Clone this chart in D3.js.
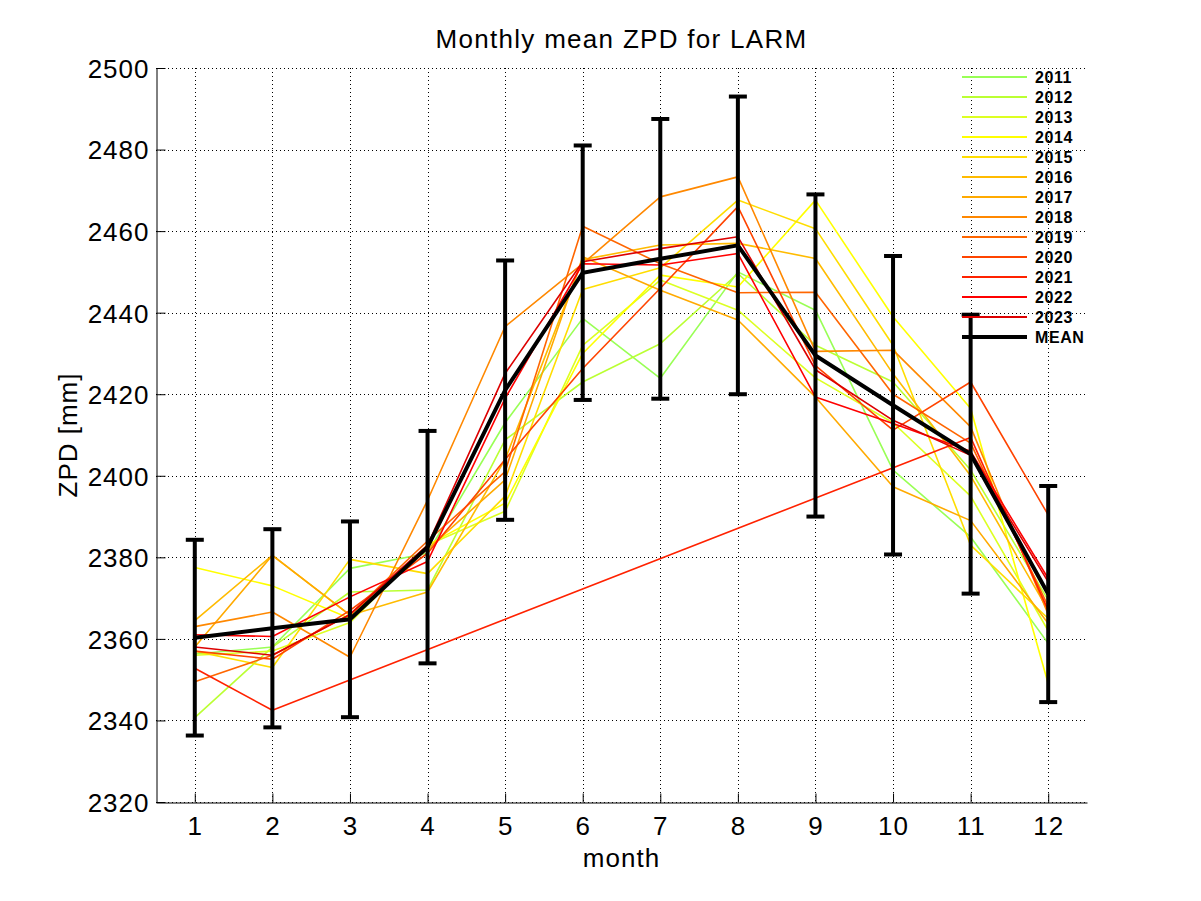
<!DOCTYPE html>
<html>
<head>
<meta charset="utf-8">
<script src="https://cdn.jsdelivr.net/npm/d3@7/dist/d3.min.js"></script>
<style>
  html, body { margin: 0; padding: 0; background: #fff; }
  svg { display: block; }
  text { font-family: "Liberation Sans", Arial, Helvetica, sans-serif; fill: #000; }
</style>
</head>
<body>
<svg id="chart" width="1201" height="901"></svg>
<script>
// ---------------- DATA ----------------
const months = [1, 2, 3, 4, 5, 6, 7, 8, 9, 10, 11, 12];
const yTicks = [2320, 2340, 2360, 2380, 2400, 2420, 2440, 2460, 2480, 2500];
const years = ["2011", "2012", "2013", "2014", "2015", "2016", "2017", "2018", "2019", "2020", "2021", "2022", "2023"];
const yearColors = ["#99ff55", "#bbff33", "#ddff22", "#ffff00", "#ffdd00", "#ffbb00", "#ffaa00",
                    "#ff8800", "#ff6600", "#ff4400", "#ff2200", "#ff0000", "#dd0000"];

const zpd2011 = [2356.3, 2358.0, 2377.3, 2381.0, 2413.0, 2438.6, 2423.9, 2450.0, 2440.6, 2401.4, 2385.0, 2358.9];
const zpd2012 = [2340.7, 2358.0, 2371.5, 2372.0, 2408.8, 2423.0, 2432.4, 2449.6, 2432.0, 2423.0, 2401.4, 2369.5];
const zpd2013 = [2356.0, 2357.0, 2364.0, 2383.0, 2391.3, 2432.0, 2448.0, 2440.6, 2424.0, 2413.0, 2395.0, 2362.0];
const zpd2014 = [2377.5, 2373.0, 2365.0, 2383.0, 2393.3, 2430.0, 2449.2, 2446.3, 2467.6, 2439.0, 2416.5, 2349.0];
const zpd2015 = [2357.0, 2353.0, 2379.5, 2376.0, 2395.0, 2445.7, 2451.0, 2467.6, 2460.6, 2432.0, 2383.0, 2365.0];
const zpd2016 = [2364.5, 2380.5, 2365.8, 2371.5, 2404.0, 2453.0, 2456.6, 2457.0, 2453.3, 2425.0, 2400.0, 2367.0];
const zpd2017 = [2358.0, 2380.5, 2365.8, 2382.0, 2399.0, 2453.7, 2445.5, 2438.2, 2419.3, 2397.3, 2389.0, 2363.8];
const zpd2018 = [2363.0, 2366.6, 2355.5, 2394.0, 2436.6, 2452.0, 2468.4, 2473.3, 2430.5, 2430.8, 2412.0, 2366.0];
const zpd2019 = [2349.5, 2356.0, 2366.0, 2384.0, 2401.0, 2461.2, 2452.0, 2444.9, 2445.0, 2420.0, 2408.0, 2368.0];
const zpd2020 = [2357.0, 2355.0, 2367.0, 2381.0, 2404.0, 2426.3, 2446.0, 2466.0, 2427.0, 2411.2, 2423.0, 2390.4];
const zpd2021 = [2352.8, 2342.5, null, null, null, null, null, null, null, null, 2409.4, 2367.0];
const zpd2022 = [2361.0, 2360.6, 2370.3, 2379.0, 2419.0, 2452.0, 2451.7, 2454.5, 2419.3, 2412.8, 2406.0, 2374.8];
const zpd2023 = [2358.0, 2356.0, 2366.0, 2383.0, 2425.1, 2452.5, 2455.7, 2458.6, 2426.0, 2413.6, 2405.0, 2374.0];

const meanZpd = [2360.3, 2362.6, 2364.8, 2382.5, 2421.0, 2449.8, 2453.2, 2456.5, 2429.5, 2417.3, 2405.3, 2371.0];
const stdZpd  = [24.0, 24.3, 24.0, 28.5, 31.8, 31.2, 34.3, 36.5, 39.5, 36.6, 34.2, 26.5];

const seriesValues = [zpd2011, zpd2012, zpd2013, zpd2014, zpd2015, zpd2016, zpd2017,
                      zpd2018, zpd2019, zpd2020, zpd2021, zpd2022, zpd2023];

// ---------------- LAYOUT ----------------
const L = 156, R = 1087, T = 68, B = 802;
const svg = d3.select("#chart");

const x = d3.scaleLinear().domain([0.5, 12.5]).range([L, R]);
const y = d3.scaleLinear().domain([2320, 2500]).range([B, T]);

// grid
const grid = svg.append("g").attr("stroke", "#000").attr("stroke-width", 1)
  .attr("stroke-dasharray", "1,3").attr("fill", "none");
months.forEach(m => {
  const px = Math.round(x(m)) + 0.5;
  grid.append("line").attr("x1", px).attr("x2", px).attr("y1", T).attr("y2", B);
});
yTicks.forEach(v => {
  const py = Math.round(y(v)) + 0.5;
  grid.append("line").attr("x1", L).attr("x2", R).attr("y1", py).attr("y2", py);
});

// year lines
const line = d3.line()
  .defined(d => d.v !== null)
  .x(d => x(d.m)).y(d => y(d.v));

seriesValues.forEach((vals, i) => {
  const pts = months.map((m, j) => ({ m: m, v: vals[j] })).filter(d => d.v !== null);
  svg.append("path")
    .attr("d", line(pts))
    .attr("fill", "none")
    .attr("stroke", yearColors[i])
    .attr("stroke-width", 1.6)
    .attr("stroke-linejoin", "round");
});

// mean + error bars
const eb = svg.append("g").attr("stroke", "#000").attr("stroke-width", 4).attr("fill", "none");
months.forEach((m, j) => {
  const cx = x(m);
  const yt = y(meanZpd[j] + stdZpd[j]), yb = y(meanZpd[j] - stdZpd[j]);
  eb.append("line").attr("x1", cx).attr("x2", cx).attr("y1", yt).attr("y2", yb);
  eb.append("line").attr("x1", cx - 9).attr("x2", cx + 9).attr("y1", yt).attr("y2", yt);
  eb.append("line").attr("x1", cx - 9).attr("x2", cx + 9).attr("y1", yb).attr("y2", yb);
});
svg.append("path")
  .attr("d", d3.line().x((d, j) => x(months[j])).y(d => y(d))(meanZpd))
  .attr("fill", "none").attr("stroke", "#000").attr("stroke-width", 4)
  .attr("stroke-linejoin", "miter");

// axes
const yAxis = d3.axisLeft(y).tickValues(yTicks).tickFormat(d3.format("d"))
  .tickSizeInner(-9).tickSizeOuter(0).tickPadding(7);
const gy = svg.append("g").attr("transform", `translate(${L + 0.5},0)`).call(yAxis);
const xAxis = d3.axisBottom(x).tickValues(months).tickFormat(d3.format("d"))
  .tickSizeInner(-9).tickSizeOuter(0).tickPadding(14);
const gx = svg.append("g").attr("transform", `translate(0,${B + 0.5})`).call(xAxis);

[gx, gy].forEach(g => {
  g.select(".domain").attr("stroke", "#000").attr("stroke-width", 1);
  g.selectAll(".tick line").attr("stroke", "#000").attr("stroke-width", 1);
  g.selectAll(".tick text")
    .style("font-family", '"Liberation Sans", Arial, sans-serif')
    .style("font-size", "26px").style("letter-spacing", "1px").attr("fill", "#000");
});
gy.selectAll(".tick text").attr("dy", "0.36em");
gx.selectAll(".tick text").attr("dy", "0.72em");

// titles
svg.append("text").attr("x", (L + R) / 2).attr("y", 48).attr("text-anchor", "middle")
  .style("font-size", "26px").style("letter-spacing", "1.3px").text("Monthly mean ZPD for LARM");
svg.append("text").attr("x", (L + R) / 2).attr("y", 867).attr("text-anchor", "middle")
  .style("font-size", "26px").style("letter-spacing", "1px").text("month");
svg.append("text").attr("transform", `translate(77,${(T + B) / 2}) rotate(-90)`)
  .attr("text-anchor", "middle")
  .style("font-size", "26px").style("letter-spacing", "1px").text("ZPD [mm]");

// legend
const legendLabels = years.concat(["MEAN"]);
const legendColors = yearColors.concat(["#000"]);
const lg = svg.append("g");
legendLabels.forEach((lab, i) => {
  const ly = 77 + 20 * i;
  lg.append("line").attr("x1", 962).attr("x2", 1027).attr("y1", ly).attr("y2", ly)
    .attr("stroke", legendColors[i]).attr("stroke-width", lab === "MEAN" ? 4 : 2);
  lg.append("text").attr("x", 1035).attr("y", ly).attr("dy", "0.36em")
    .style("font-size", "16px").style("font-weight", "bold").style("letter-spacing", "0.6px")
    .text(lab);
});
</script>
</body>
</html>
